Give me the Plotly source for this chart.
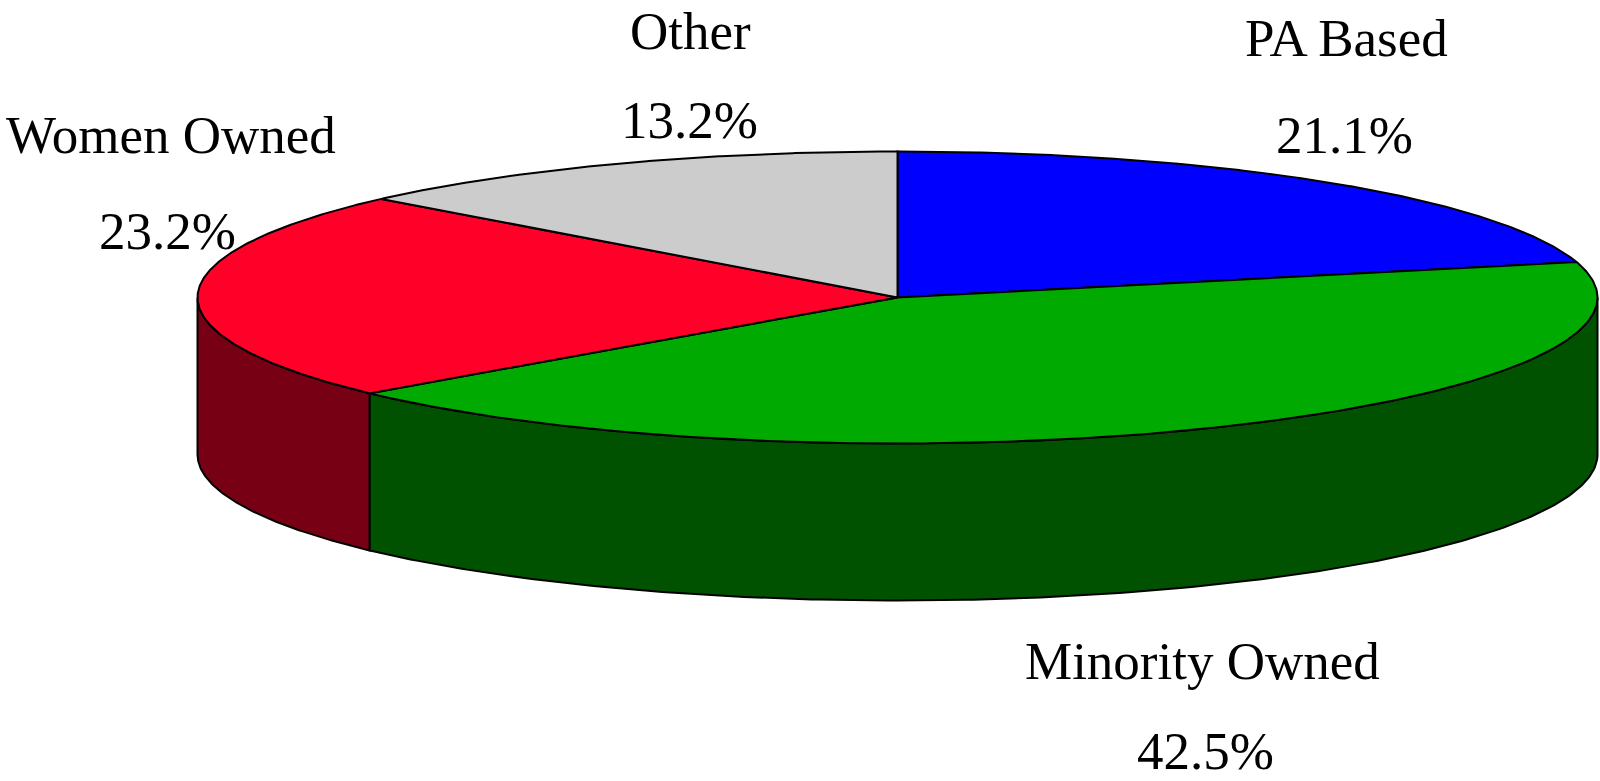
import numpy as np
import plotly.graph_objects as go

# ---- data ----
categories = ["PA Based", "Minority Owned", "Women Owned", "Other"]
values = [21.1, 42.5, 23.2, 13.2]
top_colors = ["#0000FF", "#00AA00", "#FF0028", "#CCCCCC"]
side_colors = ["#000080", "#005200", "#780014", "#666666"]

# ---- layout geometry (pixels) ----
W, H = 1600, 781
CX, CY = 897.5, 297.5
RX, RY = 700.0, 146.0
DEPTH = 157.0
START = 90.0  # degrees, slices run clockwise

# label anchors (pixel centres): name, percentage
label_pos = {
    "PA Based": ((1346, 38), (1344, 134.5)),
    "Minority Owned": ((1202, 661), (1205, 751)),
    "Women Owned": ((171, 135), (167, 230.5)),
    "Other": ((690, 31), (689.5, 120)),
}

FONT = dict(family="Liberation Serif, Times New Roman, serif", size=53, color="black")


def ell(t_deg, dy=0.0):
    t = np.radians(t_deg)
    return CX + RX * np.cos(t), CY - RY * np.sin(t) + dy


total = sum(values)
bounds = []
a = START
for v in values:
    b = a - 360.0 * v / total
    bounds.append((a, b))
    a = b

fig = go.Figure()

# side walls (front half only)
fronts = [(-180.0, 0.0), (180.0, 360.0), (-540.0, -360.0)]
for (a, b), col in zip(bounds, side_colors):
    for lo, hi in fronts:
        s = min(a, hi)
        e = max(b, lo)
        if s - e <= 1e-6:
            continue
        ts = np.linspace(s, e, 200)
        xt, yt = ell(ts)
        xb, yb = ell(ts[::-1], DEPTH)
        xs = np.concatenate([xt, xb, xt[:1]])
        ys = np.concatenate([yt, yb, yt[:1]])
        fig.add_trace(go.Scatter(x=xs, y=ys, mode="lines", fill="toself",
                                 fillcolor=col, line=dict(color="black", width=2),
                                 hoverinfo="skip", showlegend=False))

# top faces
for (a, b), col in zip(bounds, top_colors):
    ts = np.linspace(a, b, 300)
    xt, yt = ell(ts)
    xs = np.concatenate([[CX], xt, [CX]])
    ys = np.concatenate([[CY], yt, [CY]])
    fig.add_trace(go.Scatter(x=xs, y=ys, mode="lines", fill="toself",
                             fillcolor=col, line=dict(color="black", width=2),
                             hoverinfo="skip", showlegend=False))

annotations = []
for cat, v in zip(categories, values):
    (nx, ny), (px, py) = label_pos[cat]
    annotations.append(dict(x=nx, y=ny, text=cat, showarrow=False, font=FONT,
                            xanchor="center", yanchor="middle"))
    annotations.append(dict(x=px, y=py, text=f"{v:.1f}%", showarrow=False, font=FONT,
                            xanchor="center", yanchor="middle"))

fig.update_layout(
    width=W, height=H,
    margin=dict(l=0, r=0, t=0, b=0),
    paper_bgcolor="white", plot_bgcolor="white",
    xaxis=dict(range=[0, W], visible=False, fixedrange=True),
    yaxis=dict(range=[H, 0], visible=False, fixedrange=True),
    annotations=annotations,
    showlegend=False,
)

fig.write_html("out.html", config={"displayModeBar": False},
               post_script="document.body.style.margin='0';document.body.style.overflow='hidden';")
